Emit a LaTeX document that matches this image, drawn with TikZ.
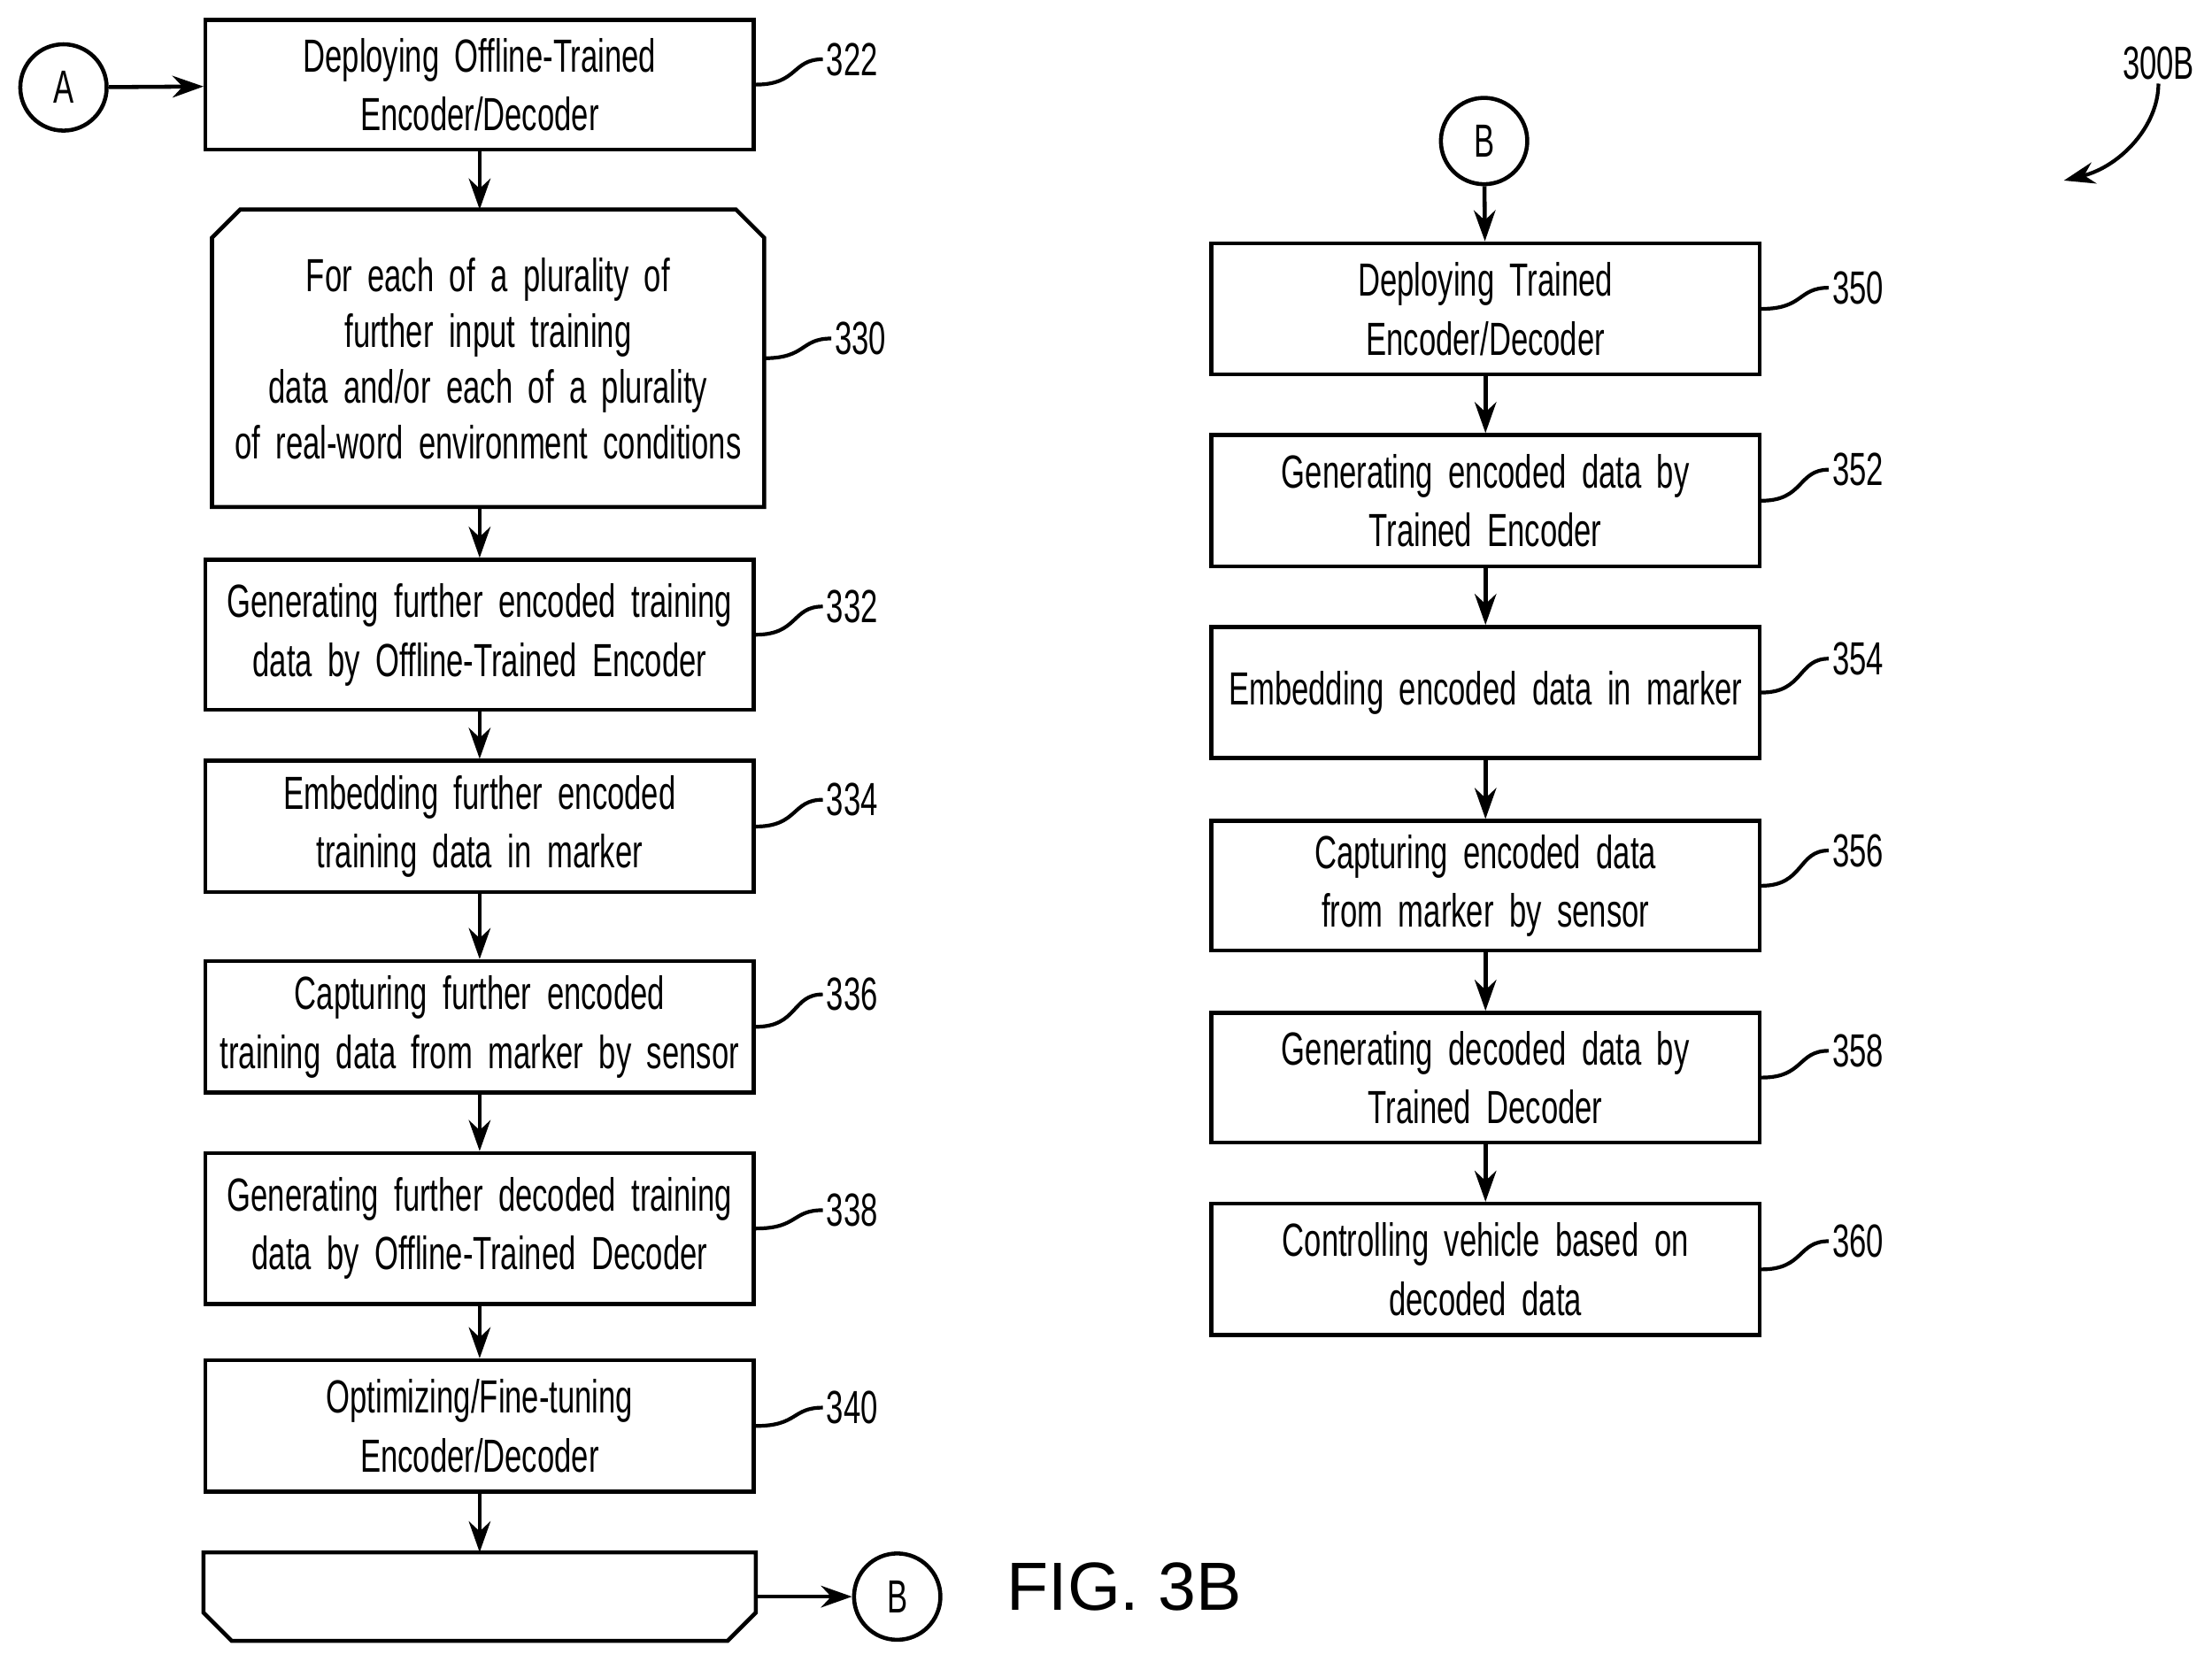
\documentclass[tikz,border=0pt]{standalone}
\usepackage{fontspec}
\setmainfont{Liberation Sans}
\newfontfamily\narrowfont[FakeStretch=0.66, WordSpace=0.7]{Liberation Sans}
\usetikzlibrary{calc, positioning, arrows.meta}

\tikzset{
	flowbox/.style = {draw, line width=1.3pt, minimum width=6.22cm, text width=6.08cm, align=center, font=\narrowfont\fontsize{15}{19}\selectfont, inner sep=0pt},
	plain/.style = {line width=1.3pt, minimum width=6.22cm, inner sep=0pt},
	conn/.style = {draw, circle, line width=1.3pt, minimum size=0.98cm, inner sep=0pt, font=\narrowfont\fontsize{15}{18}\selectfont},
	flow/.style = {-{Stealth[length=10pt, width=7pt]}, line width=1.3pt},
	tag/.style = {font=\narrowfont\fontsize{15}{18}\selectfont, inner sep=1pt},
	lead/.style = {line width=1.2pt}
}

\begin{document}
\begin{tikzpicture}[x=0.016cm, y=-0.016cm]
	\useasboundingbox (0,0) rectangle (1568,1178);

	% left column
	\node[conn] (A) at (45,62) {A};
	\node[flowbox, minimum height=1.47cm] (b322) at (340,60) {Deploying Offline-Trained\\Encoder/Decoder};
	\node[plain, minimum height=3.33cm, text width=6.08cm, align=center, font=\narrowfont\fontsize{15}{18}\selectfont] (b330) at (346,254) {For each of a plurality of\\further input training\\data and/or each of a plurality\\of real-word environment conditions};
	\draw[line width=1.3pt] (b330.south west) -- ($(b330.north west)+(0,20)$) -- ($(b330.north west)+(20,0)$) -- ($(b330.north east)+(-20,0)$) -- ($(b330.north east)+(0,20)$) -- (b330.south east) -- cycle;
	\node[flowbox, minimum height=1.70cm] (b332) at (340,450) {Generating further encoded training\\data by Offline-Trained Encoder};
	\node[flowbox, minimum height=1.49cm] (b334) at (340,586) {Embedding further encoded\\training data in marker};
	\node[flowbox, minimum height=1.49cm] (b336) at (340,728) {Capturing further encoded\\training data from marker by sensor};
	\node[flowbox, minimum height=1.71cm] (b338) at (340,871) {Generating further decoded training\\data by Offline-Trained Decoder};
	\node[flowbox, minimum height=1.49cm] (b340) at (340,1011) {Optimizing/Fine-tuning\\Encoder/Decoder};
	\node[plain, minimum height=0.96cm] (b342) at (340,1132) {};
	\draw[line width=1.3pt] (b342.north west) -- ($(b342.south west)+(0,-20)$) -- ($(b342.south west)+(20,0)$) -- ($(b342.south east)+(-20,0)$) -- ($(b342.south east)+(0,-20)$) -- (b342.north east) -- cycle;
	\node[conn] (B1) at (636,1132) {B};

	\draw[flow] (A) -- (b322);
	\draw[flow] (b322) -- (b322 |- b330.north);
	\draw[flow] (b330.south -| b332) -- (b332);
	\draw[flow] (b332) -- (b334);
	\draw[flow] (b334) -- (b336);
	\draw[flow] (b336) -- (b338);
	\draw[flow] (b338) -- (b340);
	\draw[flow] (b340) -- (b342);
	\draw[flow] (b342) -- (B1);

	% right column
	\node[conn] (B2) at (1052,100) {B};
	\node[flowbox, minimum height=1.49cm] (b350) at (1053,219) {Deploying Trained\\Encoder/Decoder};
	\node[flowbox, minimum height=1.49cm] (b352) at (1053,355) {Generating encoded data by\\Trained Encoder};
	\node[flowbox, minimum height=1.49cm] (b354) at (1053,491) {Embedding encoded data in marker};
	\node[flowbox, minimum height=1.47cm] (b356) at (1053,628) {Capturing encoded data\\from marker by sensor};
	\node[flowbox, minimum height=1.47cm] (b358) at (1053,764) {Generating decoded data by\\Trained Decoder};
	\node[flowbox, minimum height=1.49cm] (b360) at (1053,900) {Controlling vehicle based on\\decoded data};

	\draw[flow] (B2) -- (b350);
	\draw[flow] (b350) -- (b352);
	\draw[flow] (b352) -- (b354);
	\draw[flow] (b354) -- (b356);
	\draw[flow] (b356) -- (b358);
	\draw[flow] (b358) -- (b360);

	% reference numerals
	\foreach \b/\x/\y in {322/604/42, 330/610/240, 332/604/430, 334/604/567, 336/604/705, 338/604/858, 340/604/998,
		350/1317/204, 352/1317/333, 354/1317/467, 356/1317/603, 358/1317/745, 360/1317/880}{
		\node[tag] (l\b) at (\x,\y) {\b};
		\draw[lead] (b\b.east) .. controls +(30,0) and +(-22,0) .. (l\b.west);
	}

	\node[tag] (l300) at (1530,45) {300B};
	\draw[lead, -{Stealth[length=10pt, width=7pt]}] (l300.south) .. controls +(0,30) and +(40,-10) .. (1463,128);

	\node[font=\fontsize{22}{26}\selectfont] (fig) at (797,1125) {FIG. 3B};
\end{tikzpicture}
\end{document}
